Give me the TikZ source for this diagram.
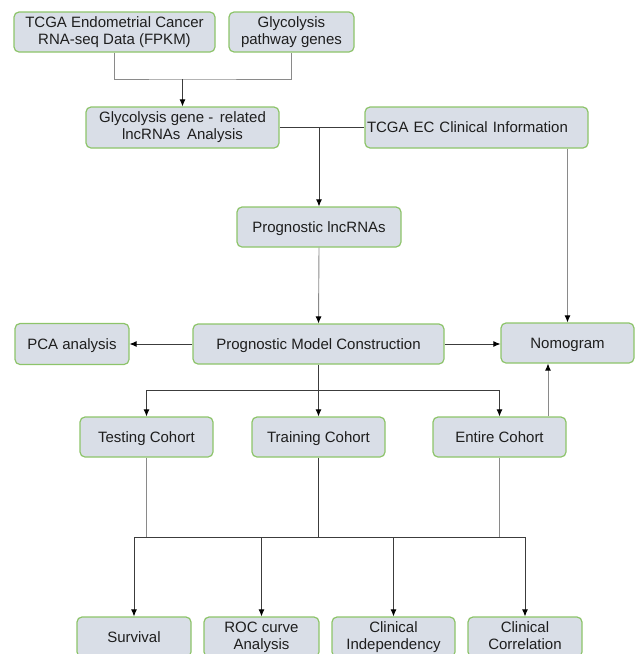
\documentclass[tikz,border=0pt]{standalone}
\usepackage{fontspec}
\setmainfont{Liberation Sans}
\usetikzlibrary{arrows.meta}
\definecolor{boxfill}{HTML}{D9DEE7}
\definecolor{boxline}{HTML}{8DC46A}
\definecolor{lgray}{HTML}{8A8A8A}
\definecolor{dgray}{HTML}{3C3C3C}
\definecolor{txt}{HTML}{1E1E1E}
\newcommand\bxstrut{\rule[-3.3pt]{0pt}{17.3pt}}
\tikzset{
  box/.style={draw=boxline, fill=boxfill, line width=1.2pt, rounded corners=5pt,
    align=center, text=txt, inner sep=2pt, minimum height=40pt,
    font=\fontsize{15}{17}\selectfont,
    execute at begin node=\bxstrut, execute at end node=\bxstrut},
  lline/.style={draw=lgray, line width=0.9pt},
  dline/.style={draw=dgray, line width=0.9pt},
  arr/.style={-{Latex[length=7pt,width=6pt,color=black]}},
}
\begin{document}
\begin{tikzpicture}[x=1pt,y=-1pt]
\useasboundingbox (0,0) rectangle (635,654);
\clip (0,0) rectangle (635,654);
% boxes
\node[box, minimum width=201pt] (A) at (114.5,32) {TCGA Endometrial Cancer\\RNA-seq Data (FPKM)};
\node[box, minimum width=125pt] (B) at (291.5,32) {Glycolysis\\pathway genes};
\node[box, minimum width=193pt, minimum height=41pt] (C) at (182.5,127.5) {Glycolysis gene -\, related\\lncRNAs\, Analysis};
\node[box, text width=219pt, align=left, minimum height=41pt] (D) at (476.5,127.5) {TCGA EC Clinical Information};
\node[box, minimum width=164pt] (E) at (319,227) {Prognostic lncRNAs};
\node[box, minimum width=251pt] (F) at (318.5,344) {Prognostic Model Construction};
\node[box, minimum width=114pt, minimum height=41pt] (PCA) at (72,344) {PCA analysis};
\node[box, minimum width=133pt] (Nom) at (567.5,343) {Nomogram};
\node[box, minimum width=133pt] (Test) at (146.5,437) {Testing Cohort};
\node[box, minimum width=133pt] (Train) at (318.5,437) {Training Cohort};
\node[box, minimum width=133pt] (Ent) at (499.5,437) {Entire Cohort};
\node[box, minimum width=114pt] (Surv) at (134,637) {Survival};
\node[box, minimum width=115pt] (ROC) at (261.5,637) {ROC curve\\Analysis};
\node[box, minimum width=123pt] (CInd) at (393.5,637) {Clinical\\Independency};
\node[box, minimum width=114pt] (CCor) at (525,637) {Clinical\\Correlation};
% junctions
\coordinate (j1) at (182.5,79);
\coordinate (j2) at (319,127.5);
\coordinate (j3) at (318.5,390);
\coordinate (j4) at (318.5,537);
% top merge
\draw[lline] (A.south) |- (j1) -| (B.south);
\draw[dline, arr] (j1) -- (C.north);
\draw[dline] (C.east) -- (D.west);
\draw[dline, arr] (j2) -- (E.north);
\draw[lline, arr] (E.south) -- (F.north);
\draw[lline, arr] (Nom.north |- D.south) -- (Nom.north);
% model construction
\draw[dline, arr] (F.west) -- (PCA.east);
\draw[dline, arr] (F.east) -- (F.east -| Nom.west);
\draw[dline] (F.south) -- (j3);
\draw[dline] (Test.north |- j3) -- (Ent.north |- j3);
\draw[dline, arr] (Test.north |- j3) -- (Test.north);
\draw[dline, arr] (j3) -- (Train.north);
\draw[dline, arr] (Ent.north |- j3) -- (Ent.north);
\draw[lline, arr] ([xshift=48.5pt]Ent.north) -- ([xshift=48.5pt]Ent.north |- Nom.south);
% cohorts to analyses
\draw[lline] (Test.south) -- (Test.south |- j4);
\draw[dline, line width=1.1pt] (Train.south) -- (j4);
\draw[lline] (Ent.south) -- (Ent.south |- j4);
\draw[dline] (Surv.north |- j4) -- (CCor.north |- j4);
\draw[dline, arr] (Surv.north |- j4) -- (Surv.north);
\draw[dline, arr] (ROC.north |- j4) -- (ROC.north);
\draw[dline, arr] (CInd.north |- j4) -- (CInd.north);
\draw[dline, arr] (CCor.north |- j4) -- (CCor.north);
\end{tikzpicture}
\end{document}
